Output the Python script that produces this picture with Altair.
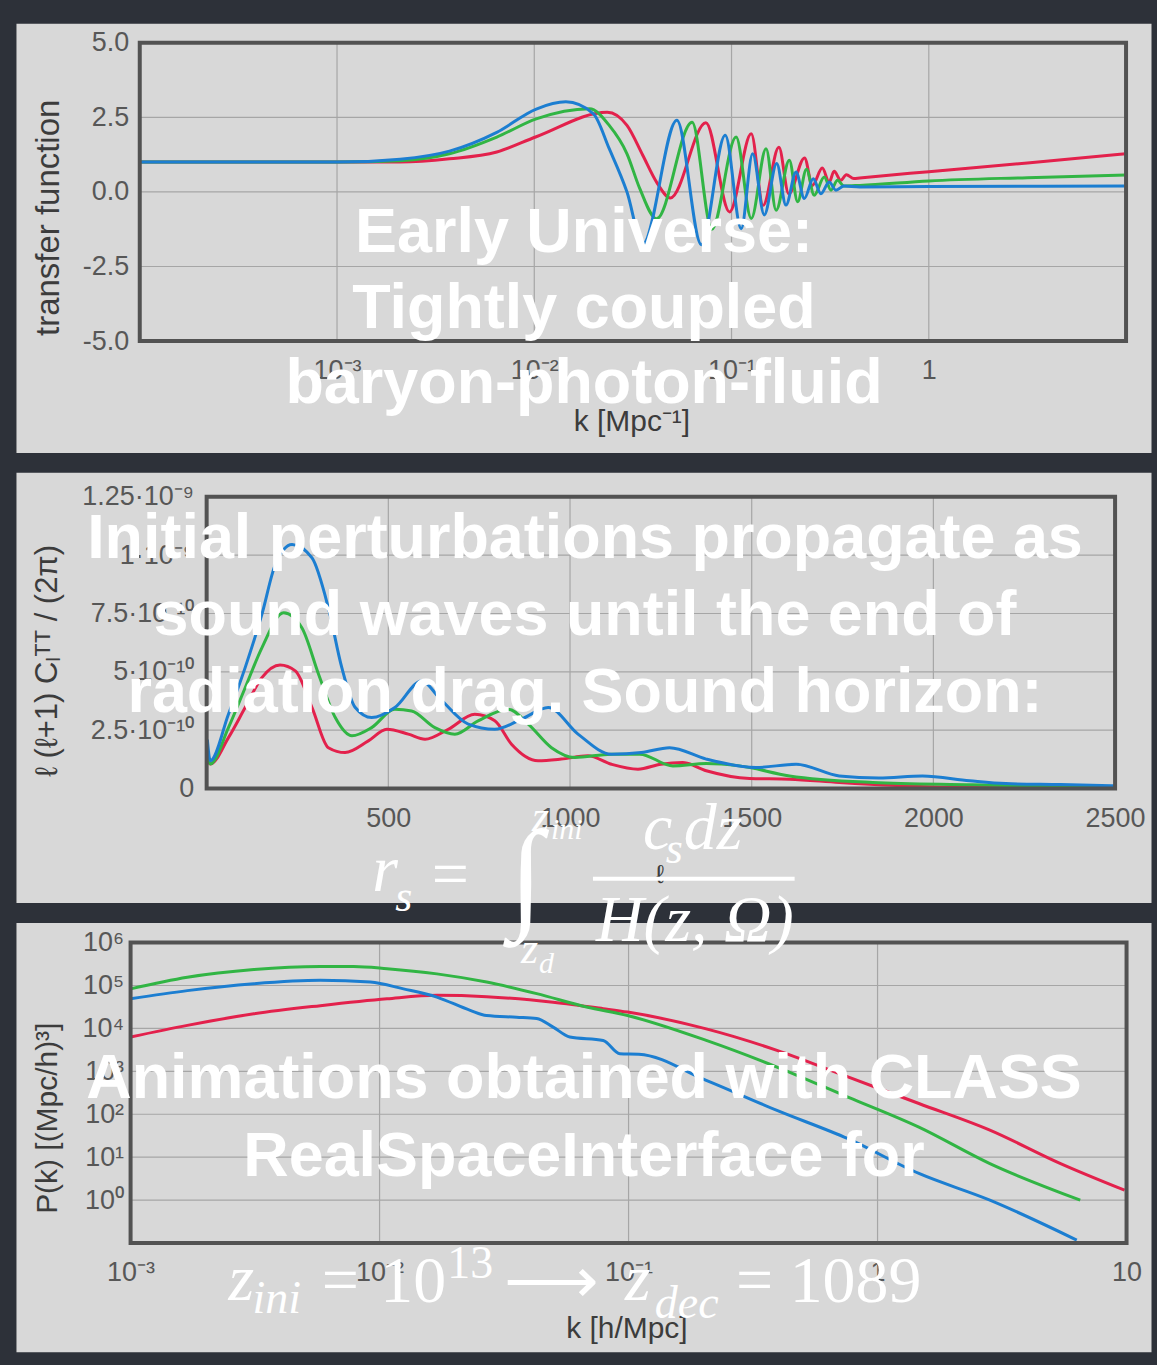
import math
import altair as alt
import pandas as pd

# ---------------- Panel 1 : transfer function vs k [1/Mpc] (log10 k, value) ----------------
TF_LOGK_RED = [-4, -3, -2.68, -2.43, -2.19, -1.99, -1.63, -1.53, -1.45, -1.38, -1.31, -1.13, -1.01, -0.90,
               -0.84, -0.76, -0.71, -0.63, -0.59, -0.54, -0.505, -0.48, -0.446, -0.418, -0.38, -0.35, 0, 0.5, 1.0]
TF_RED = [1.0, 1.0, 1.0, 1.11, 1.34, 1.85, 2.67, 2.23, 1.23, 0.33, -0.2, 2.32, -0.67, 1.95,
          -0.45, 1.5, -0.06, 1.14, 0.22, 0.80, 0.33, 0.69, 0.39, 0.58, 0.45, 0.47, 0.68, 0.97, 1.28]
TF_LOGK_GREEN = [-4, -3, -2.68, -2.43, -2.19, -1.99, -1.72, -1.62, -1.53, -1.465, -1.38, -1.20, -1.10, -0.977,
                 -0.90, -0.825, -0.774, -0.707, -0.665, -0.62, -0.581, -0.53, -0.496, -0.463, -0.43, -0.35, 0, 0.5, 1.0]
TF_GREEN = [1.0, 1.0, 1.05, 1.28, 1.84, 2.45, 2.79, 2.23, 1.28, 0.11, -0.9, 2.34, -1.25, 1.84,
            -0.89, 1.45, -0.61, 1.06, -0.33, 0.76, -0.11, 0.5, 0.06, 0.39, 0.2, 0.22, 0.37, 0.48, 0.57]
TF_LOGK_BLUE = [-4, -3, -2.68, -2.43, -2.19, -1.99, -1.84, -1.70, -1.62, -1.53, -1.45, -1.277, -1.153, -1.032,
                -0.951, -0.893, -0.834, -0.771, -0.724, -0.673, -0.631, -0.586, -0.547, -0.505, -0.471, -0.43, -0.35, 0, 1.0]
TF_BLUE = [1.0, 1.0, 1.1, 1.37, 2.0, 2.78, 3.02, 2.62, 1.45, 0.0, -1.75, 2.40, -1.77, 1.90,
           -1.23, 1.28, -0.77, 0.95, -0.44, 0.67, -0.22, 0.44, -0.06, 0.33, 0.06, 0.2, 0.17, 0.18, 0.2]
TF_X_TICKS = [1e-3, 1e-2, 1e-1, 1.0]
TF_X_LABELS = ['10⁻³', '10⁻²', '10⁻¹', '1']
TF_Y_TICKS = [-5.0, -2.5, 0.0, 2.5, 5.0]
TF_Y_LABELS = ['-5.0', '-2.5', '0.0', '2.5', '5.0']
TF_X_GRID = [1e-3, 1e-2, 1e-1, 1.0]
TF_Y_GRID = [-2.5, 0.0, 2.5]

# ---------------- Panel 2 : CMB TT spectrum (ell, value in units of 1e-10) ----------------
CL_ELL_RED = [2, 10, 60, 106, 152, 202, 244, 290, 335, 381, 445, 496, 555, 601, 665, 738, 793, 839, 912, 976,
              1049, 1114, 1187, 1250, 1310, 1375, 1494, 1604, 1741, 2016, 2500]
CL_RED = [1.2, 1.05, 2.18, 3.47, 4.75, 5.29, 5.04, 3.47, 1.75, 1.54, 2.04, 2.54, 2.33, 2.11, 2.54, 3.18, 2.90, 1.90,
          1.19, 1.26, 1.40, 1.04, 0.83, 1.04, 1.11, 0.76, 0.43, 0.40, 0.26, 0.07, 0.0]
CL_ELL_GREEN = [2, 10, 60, 106, 152, 212, 262, 308, 354, 400, 454, 518, 564, 628, 683, 747, 830, 885, 949, 1013,
                1114, 1192, 1283, 1375, 1466, 1604, 1833, 2107, 2500]
CL_GREEN = [1.4, 1.05, 2.61, 4.32, 6.03, 7.53, 6.89, 4.9, 3.04, 2.26, 2.61, 3.40, 3.32, 2.61, 2.33, 2.90, 3.40, 2.76,
            1.75, 1.33, 1.47, 1.47, 0.97, 1.07, 0.97, 0.54, 0.26, 0.16, 0.03]
CL_ELL_BLUE = [2, 10, 60, 106, 152, 189, 235, 290, 335, 372, 409, 454, 518, 592, 640, 720, 793, 870, 940, 1022,
               1114, 1196, 1274, 1375, 1512, 1622, 1741, 1850, 1970, 2100, 2199, 2350, 2500]
CL_BLUE = [2.1, 1.19, 3.18, 5.18, 7.46, 9.6, 10.46, 9.88, 7.74, 5.18, 3.47, 3.04, 3.47, 4.61, 3.89, 2.76, 2.54, 3.0,
           3.47, 2.33, 1.47, 1.54, 1.75, 1.26, 0.90, 1.04, 0.54, 0.45, 0.54, 0.33, 0.21, 0.17, 0.12]
CL_UNIT = 1e-10
CL_X_TICKS = [500, 1000, 1500, 2000, 2500]
CL_X_LABELS = ['500', '1000', '1500', '2000', '2500']
CL_Y_TICKS = [0.0, 2.5e-10, 5e-10, 7.5e-10, 1e-9, 1.25e-9]
CL_Y_LABELS = ['0', '2.5·10⁻¹⁰', '5·10⁻¹⁰', '7.5·10⁻¹⁰', '1·10⁻⁹', '1.25·10⁻⁹']
CL_X_GRID = [500, 1000, 1500, 2000]
CL_Y_GRID = [2.5e-10, 5e-10, 7.5e-10, 1e-9]

# ---------------- Panel 3 : matter power spectrum (log10 k, log10 P) ----------------
PK_LOGK_RED = [-3.0, -2.772, -2.505, -2.238, -1.970, -1.770, -1.570, -1.303, -1.102, -1.004, -0.688, -0.404,
               -0.119, 0.166, 0.451, 0.735, 0.992]
PK_LOGP_RED = [3.80, 4.07, 4.34, 4.53, 4.69, 4.77, 4.74, 4.61, 4.46, 4.38, 3.99, 3.49, 2.87, 2.25, 1.63, 0.85, 0.23]
PK_LOGK_GREEN = [-3.0, -2.772, -2.505, -2.238, -2.104, -1.970, -1.770, -1.570, -1.369, -1.169, -1.004, -0.688,
                 -0.404, -0.119, 0.166, 0.451, 0.814]
PK_LOGP_GREEN = [4.92, 5.19, 5.37, 5.44, 5.44, 5.39, 5.27, 5.08, 4.81, 4.50, 4.30, 3.72, 3.10, 2.40, 1.70, 0.85, 0.0]
PK_LOGK_BLUE = [-3.0, -2.772, -2.505, -2.238, -2.037, -1.904, -1.770, -1.636, -1.570, -1.45, -1.369, -1.303,
                -1.236, -1.102, -1.035, -0.959, -0.688, -0.404, -0.119, 0.166, 0.451, 0.800]
PK_LOGP_BLUE = [4.69, 4.88, 5.04, 5.12, 5.08, 4.92, 4.73, 4.42, 4.30, 4.26, 4.23, 4.03, 3.80, 3.72, 3.41, 3.40,
                2.79, 2.09, 1.43, 0.62, 0.0, -0.93]
PK_X_TICKS = [1e-3, 1e-2, 1e-1, 1.0, 10.0]
PK_X_LABELS = ['10⁻³', '10⁻²', '10⁻¹', '1', '10']
PK_Y_TICKS = [1.0, 10.0, 100.0, 1e3, 1e4, 1e5, 1e6]
PK_Y_LABELS = ['10⁰', '10¹', '10²', '10³', '10⁴', '10⁵', '10⁶']
PK_X_GRID = [1e-2, 1e-1, 1.0]
PK_Y_GRID = [1.0, 10.0, 100.0, 1e3, 1e4, 1e5]

# ---------------- overlay texts ----------------
TEXT_P1 = ['Early Universe:', 'Tightly coupled', 'baryon-photon-fluid']
TEXT_P2 = ['Initial perturbations propagate as', 'sound waves until the end of', 'radiation drag. Sound horizon:']
TEXT_P3 = ['Animations obtained with CLASS', 'RealSpaceInterface for']

# ---------------- styles ----------------
BG = '#2d3139'
PANEL = '#d8d8d8'
RED, GREEN, BLUE = '#e3214c', '#31b544', '#1c7ed1'
GRID = '#a6a6a6'
FRAME = '#525252'
LABEL = '#575757'
TITLE = '#3c3c3c'
SANS = 'Liberation Sans'
SERIF = 'Liberation Serif'
PW = 1137


def label_expr(values, labels, log=False, tol=1e-6):
    expr = "''"
    for v, l in reversed(list(zip(values, labels))):
        if log:
            cond = f"abs(log(datum.value) - ({math.log(v)})) < 0.01"
        else:
            cond = f"abs(datum.value - ({v})) < {tol}"
        expr = f"({cond}) ? '{l}' : {expr}"
    return expr


def txt(s, x, y, size, font=SANS, weight='bold', style='normal', align='center',
        baseline='alphabetic', color='white', angle=0, opacity=1.0):
    props = dict(text=s, font=font, fontSize=size, fontWeight=weight, fontStyle=style, align=align,
                 baseline=baseline, color=color, opacity=opacity)
    if angle:
        props['angle'] = angle
    return alt.Chart(alt.Data(values=[{}])).mark_text(**props).encode(x=alt.value(x), y=alt.value(y))


def panel(series, sx, sy, xaxis, yaxis, xgrid, ygrid, xdom, ydom, height, extra):
    X = lambda: alt.X('x:Q', scale=sx, axis=xaxis, title=None)
    Y = lambda: alt.Y('y:Q', scale=sy, axis=yaxis, title=None)
    layers = []
    gh = pd.DataFrame({'y': ygrid, 'x': xdom[0], 'x2': xdom[1]})
    layers.append(alt.Chart(gh).mark_rule(color=GRID, strokeWidth=1.2).encode(x=X(), x2='x2:Q', y=Y()))
    gv = pd.DataFrame({'x': xgrid, 'y': ydom[0], 'y2': ydom[1]})
    layers.append(alt.Chart(gv).mark_rule(color=GRID, strokeWidth=1.2).encode(x=X(), y=Y(), y2='y2:Q'))
    for xs, ys, col in series:
        df = pd.DataFrame({'x': xs, 'y': ys})
        layers.append(alt.Chart(df).mark_line(color=col, strokeWidth=3, interpolate='monotone').encode(
            x=X(), y=Y()))
    fr = pd.DataFrame({'x': [xdom[0]], 'x2': [xdom[1]], 'y': [ydom[0]], 'y2': [ydom[1]]})
    layers.append(alt.Chart(fr).mark_rect(fillOpacity=0, stroke=FRAME, strokeWidth=4).encode(
        x=X(), x2='x2:Q', y=Y(), y2='y2:Q'))
    layers.extend(extra)
    return alt.layer(*layers).properties(width=PW, height=height)


def axis(orient, offset, values, labels, log, pad, tol=1e-6):
    return alt.Axis(orient=orient, offset=offset, values=values, labelExpr=label_expr(values, labels, log, tol),
                    domain=False, ticks=False, grid=False, labelPadding=pad, labelFont=SANS, labelFontSize=27,
                    labelColor=LABEL, labelFlush=False, labelOverlap=False)


# ---------------- panel 1 ----------------
H1 = 430
sx1 = alt.Scale(type='log', domain=[1e-4, 10], range=[124, 1112], nice=False)
sy1 = alt.Scale(domain=[-5, 5], range=[318.5, 19.7], nice=False, zero=False)
p1_series = [([10 ** v for v in TF_LOGK_RED], TF_RED, RED),
             ([10 ** v for v in TF_LOGK_GREEN], TF_GREEN, GREEN),
             ([10 ** v for v in TF_LOGK_BLUE], TF_BLUE, BLUE)]
p1_extra = [txt('transfer function', 33, 195, 33, weight='normal', color=TITLE, angle=270, baseline='middle'),
            txt('k [Mpc⁻¹]', 617, 409, 30, weight='normal', color=TITLE)]
for s, y in zip(TEXT_P1, [229, 305, 381]):
    p1_extra.append(txt(s, 569, y, 63))
p1 = panel(p1_series, sx1, sy1,
           axis('bottom', 318.5 - H1, TF_X_TICKS, TF_X_LABELS, True, 16),
           axis('left', -124, TF_Y_TICKS, TF_Y_LABELS, False, 11),
           TF_X_GRID, TF_Y_GRID, [1e-4, 10], [-5, 5], H1, p1_extra)

# ---------------- panel 2 ----------------
H2 = 431
sx2 = alt.Scale(domain=[0, 2500], range=[191, 1101], nice=False, zero=False)
sy2 = alt.Scale(domain=[0, 1.25e-9], range=[316.7, 24.5], nice=False)
p2_series = [(CL_ELL_RED, [v * CL_UNIT for v in CL_RED], RED),
             (CL_ELL_GREEN, [v * CL_UNIT for v in CL_GREEN], GREEN),
             (CL_ELL_BLUE, [v * CL_UNIT for v in CL_BLUE], BLUE)]
p2_extra = [txt('ℓ (ℓ+1) Cₗᵀᵀ / (2π)', 32, 189, 31, weight='normal', color=TITLE, angle=270, baseline='middle'),
            txt('ℓ', 645, 411, 26, weight='normal', color=TITLE)]
for s, y in zip(TEXT_P2, [86, 163, 240]):
    p2_extra.append(txt(s, 570, y, 63))
p2 = panel(p2_series, sx2, sy2,
           axis('bottom', 316.7 - H2, CL_X_TICKS, CL_X_LABELS, False, 17),
           axis('left', -191, CL_Y_TICKS, CL_Y_LABELS, False, 13, tol=1e-12),
           CL_X_GRID, CL_Y_GRID, [0, 2500], [0, 1.25e-9], H2, p2_extra)

# ---------------- panel 3 ----------------
H3 = 430
sx3 = alt.Scale(type='log', domain=[1e-3, 10], range=[114.8, 1112.5], nice=False)
sy3 = alt.Scale(type='log', domain=[0.1, 1e6], range=[321, 20], nice=False)
p3_series = [([10 ** v for v in PK_LOGK_RED], [10 ** v for v in PK_LOGP_RED], RED),
             ([10 ** v for v in PK_LOGK_GREEN], [10 ** v for v in PK_LOGP_GREEN], GREEN),
             ([10 ** v for v in PK_LOGK_BLUE], [10 ** v for v in PK_LOGP_BLUE], BLUE)]
p3_extra = [txt('P(k)  [(Mpc/h)³]', 32, 196, 30, weight='normal', color=TITLE, angle=270, baseline='middle'),
            txt('k [h/Mpc]', 612, 416, 30, weight='normal', color=TITLE)]
for s, y in zip(TEXT_P3, [176, 254]):
    p3_extra.append(txt(s, 569, y, 63))
# sound-horizon formula (drawn from the last panel so that it lies over the others)
F = 66
p3_extra += [
    txt('r', 357, -32, F, font=SERIF, weight='normal', style='italic', align='left'),
    txt('s', 380, -12, 44, font=SERIF, weight='normal', style='italic', align='left'),
    txt('=', 435, -27, F, font=SERIF, weight='normal'),
    txt('∫', 511, -8, 122, font=SERIF, weight='normal', style='italic'),
    txt('z', 517, -92, 44, font=SERIF, weight='normal', style='italic', align='left'),
    txt('ini', 536, -84, 30, font=SERIF, weight='normal', style='italic', align='left'),
    txt('z', 506, 40, 44, font=SERIF, weight='normal', style='italic', align='left'),
    txt('d', 524, 50, 30, font=SERIF, weight='normal', style='italic', align='left'),
    txt('c', 628, -74, F, font=SERIF, weight='normal', style='italic', align='left'),
    txt('s', 651, -60, 44, font=SERIF, weight='normal', style='italic', align='left'),
    txt('dz', 669, -74, F, font=SERIF, weight='normal', style='italic', align='left'),
    alt.Chart(alt.Data(values=[{}])).mark_rule(color='white', strokeWidth=4).encode(
        x=alt.value(578), x2=alt.value(780), y=alt.value(-44)),
    txt('H(z, Ω)', 680, 18, F, font=SERIF, weight='normal', style='italic'),
    # z_ini = 10^13 -> z_dec = 1089
    txt('z', 213, 378, F, font=SERIF, weight='normal', style='italic', align='left'),
    txt('ini', 237, 391, 46, font=SERIF, weight='normal', style='italic', align='left'),
    txt('=', 325, 380, F, font=SERIF, weight='normal'),
    txt('10', 365, 380, F, font=SERIF, weight='normal', align='left'),
    txt('13', 432, 356, 46, font=SERIF, weight='normal', align='left'),
    txt('⟶', 536, 361, F, font=SERIF, weight='normal', baseline='middle'),
    txt('z', 610, 378, F, font=SERIF, weight='normal', style='italic', align='left'),
    txt('dec', 640, 396, 46, font=SERIF, weight='normal', style='italic', align='left'),
    txt('=', 740, 380, F, font=SERIF, weight='normal'),
    txt('1089', 775, 380, F, font=SERIF, weight='normal', align='left'),
]
p3 = panel(p3_series, sx3, sy3,
           axis('bottom', 321 - H3, PK_X_TICKS, PK_X_LABELS, True, 17),
           axis('left', -114.8, PK_Y_TICKS, PK_Y_LABELS, True, 7),
           PK_X_GRID, PK_Y_GRID, [1e-3, 10], [0.1, 1e6], H3, p3_extra)

chart = alt.vconcat(p1, p2, p3, spacing=20, bounds='flush').properties(
    padding={'left': 15, 'top': 21, 'right': 5, 'bottom': 13}
).configure(background=BG).configure_view(fill=PANEL, stroke='transparent')

chart.save('out.html', embed_options={'renderer': 'svg', 'actions': False})
